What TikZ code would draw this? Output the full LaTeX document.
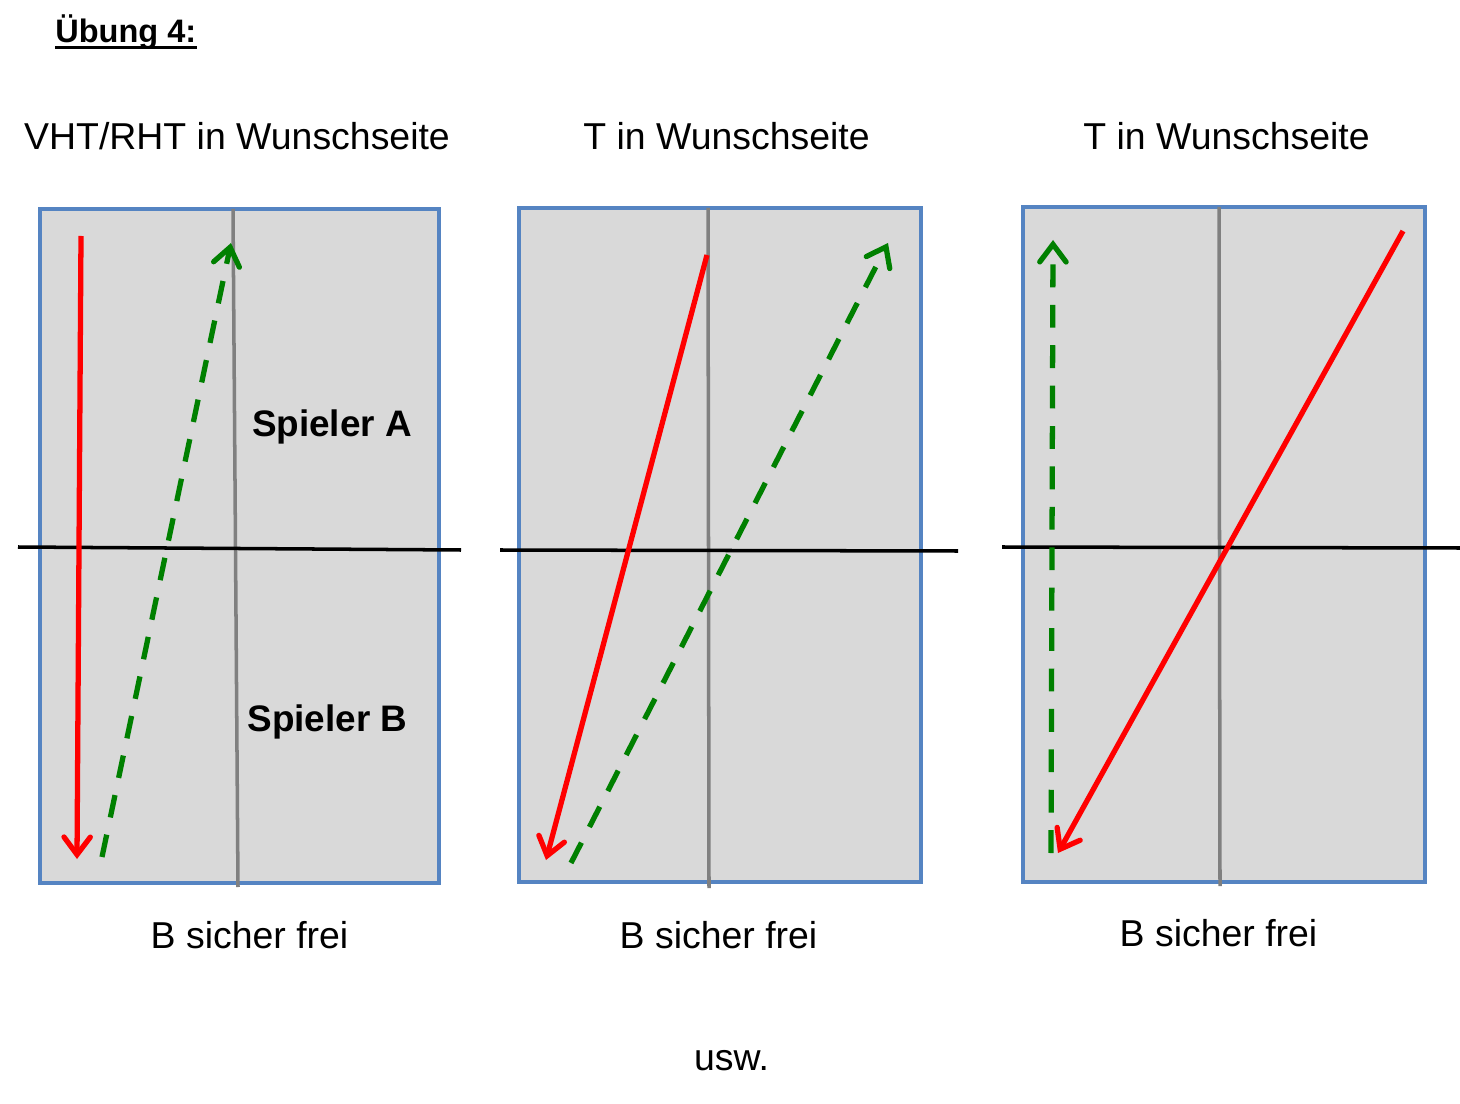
\documentclass[tikz,border=0pt]{standalone}
\usepackage{fontspec}
\setmainfont{Liberation Sans}
\usetikzlibrary{arrows.meta}
\definecolor{court}{HTML}{D9D9D9}
\definecolor{courtedge}{HTML}{5584C2}
\definecolor{shotgreen}{HTML}{008000}
\begin{document}
\begin{tikzpicture}[x=0.02cm,y=-0.02cm,
    field/.style={fill=court,draw=courtedge,line width=2.2pt},
    midline/.style={draw=gray,line width=2pt},
    netline/.style={draw=black,line width=2pt},
    redshot/.style={draw=red,line width=3pt,-{Straight Barb[length=10pt,width=15pt,line cap=round]}},
    greenshot/.style={draw=shotgreen,line width=3pt,dash pattern=on 13pt off 10pt,-{Straight Barb[length=10pt,width=15pt,line cap=round]}},
    txt/.style={font=\fontsize{21.3}{25}\selectfont,inner sep=0pt,anchor=base}]%
     \useasboundingbox (0,0) rectangle (1460,1104);
     \node [anchor=base west,inner sep=0pt,font=\fontsize{18.5}{22}\selectfont\bfseries] at (55,43) (uebung) {Übung 4:};
     \draw [line width=1.6pt] ([yshift=-2.6pt]uebung.base west) -- ([yshift=-2.6pt]uebung.base east);

     % Feld 1
     \draw [field] (40,209) rectangle (439,883);
     \draw [midline] (233,209) -- (238,887);
     \draw [netline] (18,547) -- (461,550);
     \draw [redshot] (81,236) -- (77,859);
     \draw [greenshot] (102,857) -- (231,243);
     \node [txt] at (237,150) (titel1) {VHT/RHT in Wunschseite};
     \node [txt,font=\fontsize{21}{25}\selectfont\bfseries] at (332,437) (spielerA) {Spieler A};
     \node [txt,font=\fontsize{21}{25}\selectfont\bfseries] at (327.5,731) (spielerB) {Spieler B};
     \node [txt] at (249.5,948) (frei1) {B sicher frei};

     % Feld 2
     \draw [field] (519,208) rectangle (921,882);
     \draw [midline] (708,208) -- (709,888);
     \draw [netline] (500,550) -- (958,551);
     \draw [redshot] (707,255) -- (546,860);
     \draw [greenshot] (571,863) -- (888,243);
     \node [txt] at (726.5,150) (titel2) {T in Wunschseite};
     \node [txt] at (718.5,948) (frei2) {B sicher frei};

     % Feld 3
     \draw [field] (1023,207) rectangle (1425,882);
     \draw [midline] (1219,207) -- (1220,886);
     \draw [netline] (1002,547) -- (1460,548);
     \draw [greenshot] (1051,853) -- (1053,240);
     \draw [redshot] (1403,231) -- (1058,853);
     \node [txt] at (1226.5,150) (titel3) {T in Wunschseite};
     \node [txt] at (1218.5,946) (frei3) {B sicher frei};

     \node [txt] at (731.5,1070) (usw) {usw.};
\end{tikzpicture}
\end{document}
